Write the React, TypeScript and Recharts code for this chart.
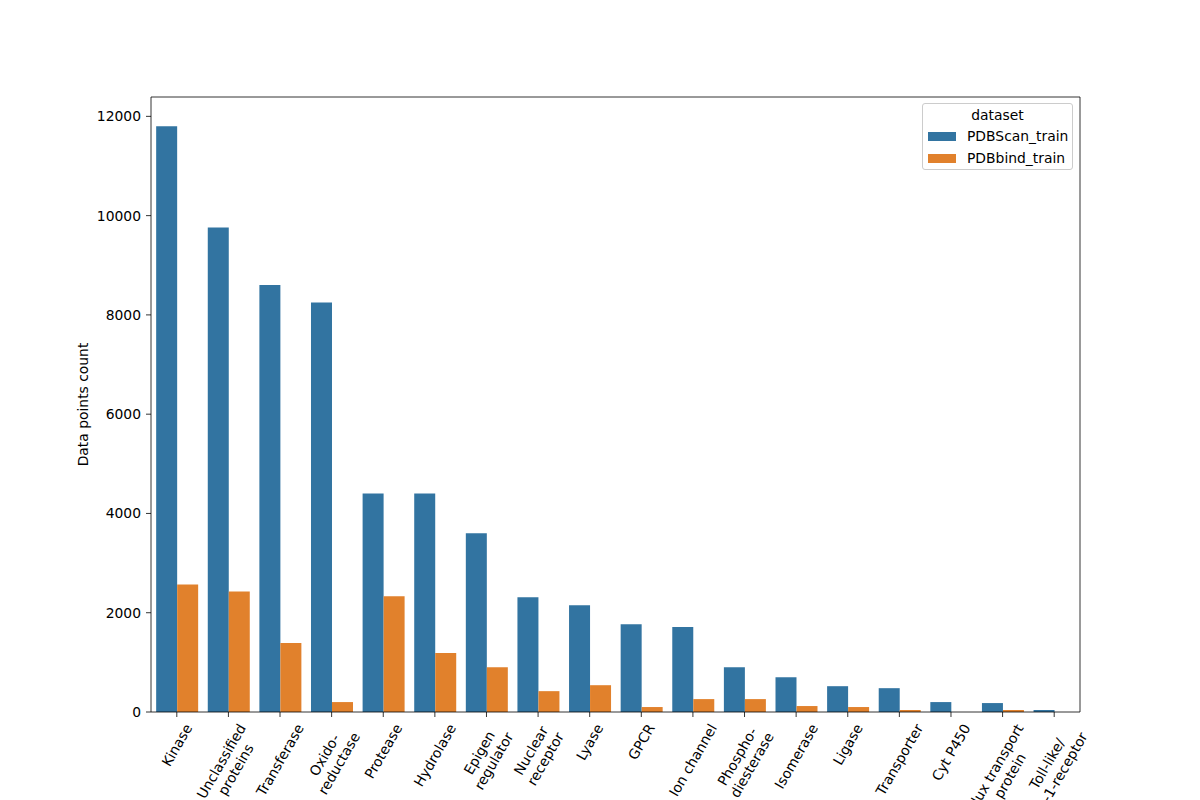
import React from 'react'
import { BarChart, Bar, XAxis, YAxis, Legend } from 'recharts'

const categories = [
  'Kinase', 'Unclassified\nproteins', 'Transferase', 'Oxido-\nreductase', 'Protease', 'Hydrolase',
  'Epigen\nregulator', 'Nuclear\nreceptor', 'Lyase', 'GPCR', 'Ion channel', 'Phospho-\ndiesterase',
  'Isomerase', 'Ligase', 'Transporter', 'Cyt P450', 'Flux transport\nprotein', 'Toll-like/\nIL-1-receptor',
]
const pdbscanTrain = [11800, 9760, 8600, 8250, 4400, 4400, 3600, 2310, 2150, 1770, 1710, 900, 700, 520, 480, 200, 180, 40]
const pdbbindTrain = [2570, 2430, 1390, 200, 2330, 1190, 900, 420, 540, 100, 260, 260, 120, 100, 40, 0, 40, 0]
const yTicks = [0, 2000, 4000, 6000, 8000, 10000, 12000]

const BLUE = '#3274a1'
const ORANGE = '#e1812c'
const FONT = '"DejaVu Sans", sans-serif'
const FS = 13.89

const data = categories.map((c, i) => ({ name: c, PDBScan_train: pdbscanTrain[i], PDBbind_train: pdbbindTrain[i] }))

let ctx: CanvasRenderingContext2D | null = null
const measure = (s: string) => {
  if (!ctx) {
    ctx = document.createElement('canvas').getContext('2d')
    if (ctx) ctx.font = `${FS}px "DejaVu Sans"`
  }
  return ctx ? ctx.measureText(s).width : s.length * 8
}

// matplotlib style: rotated block centred on the tick, top edge just under it
const RotTick = (props: any) => {
  const { x, y, payload } = props
  const lines = String(payload.value).split('\n')
  const w = Math.max(...lines.map(measure))
  const lh = FS * 1.2
  const h = lines.length * lh
  const rad = Math.PI / 3
  const bh = w * Math.sin(rad) + h * Math.cos(rad)
  const cy = y + bh / 2
  return (
    <text transform={`translate(${x},${cy}) rotate(-60)`} textAnchor="middle" fontFamily={FONT} fontSize={FS} fill="#000">
      {lines.map((l, i) => (
        <tspan key={i} x={0} y={(i - (lines.length - 1) / 2) * lh} dominantBaseline="central">{l}</tspan>
      ))}
    </text>
  )
}

const LegendBox = () => (
  <div style={{
    width: 151, height: 67, boxSizing: 'border-box', border: '1px solid #cccccc', borderRadius: 3,
    background: 'rgba(255,255,255,0.8)', fontFamily: FONT, fontSize: FS, color: '#000', position: 'relative',
  }}>
    <div style={{ position: 'absolute', top: 3, left: 0, width: '100%', textAlign: 'center' }}>dataset</div>
    {[['PDBScan_train', BLUE], ['PDBbind_train', ORANGE]].map(([n, c], i) => (
      <div key={n} style={{ position: 'absolute', top: 24 + i * 22, left: 5, display: 'flex', alignItems: 'center' }}>
        <div style={{ width: 28, height: 9, background: c, marginRight: 11 }} />
        <span>{n}</span>
      </div>
    ))}
  </div>
)

const YLabel = (props: any) => {
  const { viewBox } = props
  const cx = 83
  const cy = viewBox.y + viewBox.height / 2
  return (
    <text transform={`translate(${cx},${cy}) rotate(-90)`} textAnchor="middle" dominantBaseline="central"
      fontFamily={FONT} fontSize={FS} fill="#000">Data points count</text>
  )
}

const spine = { stroke: '#000', strokeWidth: 0.8 }

export default function App() {
  return (
    <div style={{ position: 'absolute', left: 0, top: 0, width: 1200, height: 800, background: '#fff' }}>
      <BarChart width={1200} height={800} data={data} margin={{ top: 96, right: 119, bottom: 0, left: 71 }}
        barCategoryGap="10%" barGap={0}>
        <XAxis dataKey="name" interval={0} height={88} tick={<RotTick />} tickSize={5} tickMargin={4}
          axisLine={spine} tickLine={spine} />
        <XAxis xAxisId="top" dataKey="name" orientation="top" height={1} tick={false} tickLine={false}
          axisLine={spine} />
        <YAxis domain={[0, 12390]} ticks={yTicks} width={80} tickSize={5} tickMargin={5}
          tick={{ fontFamily: FONT, fontSize: FS, fill: '#000' }} allowDataOverflow
          axisLine={spine} tickLine={spine} label={<YLabel />} />
        <YAxis yAxisId="right" orientation="right" width={1} tick={false} tickLine={false} domain={[0, 12390]}
          axisLine={spine} />
        <Legend layout="vertical" align="center" verticalAlign="middle" content={<LegendBox />}
          wrapperStyle={{ left: 922, top: 103, width: 151, height: 67 }} />
        <Bar dataKey="PDBScan_train" fill={BLUE} isAnimationActive={false} />
        <Bar dataKey="PDBbind_train" fill={ORANGE} isAnimationActive={false} />
      </BarChart>
    </div>
  )
}
